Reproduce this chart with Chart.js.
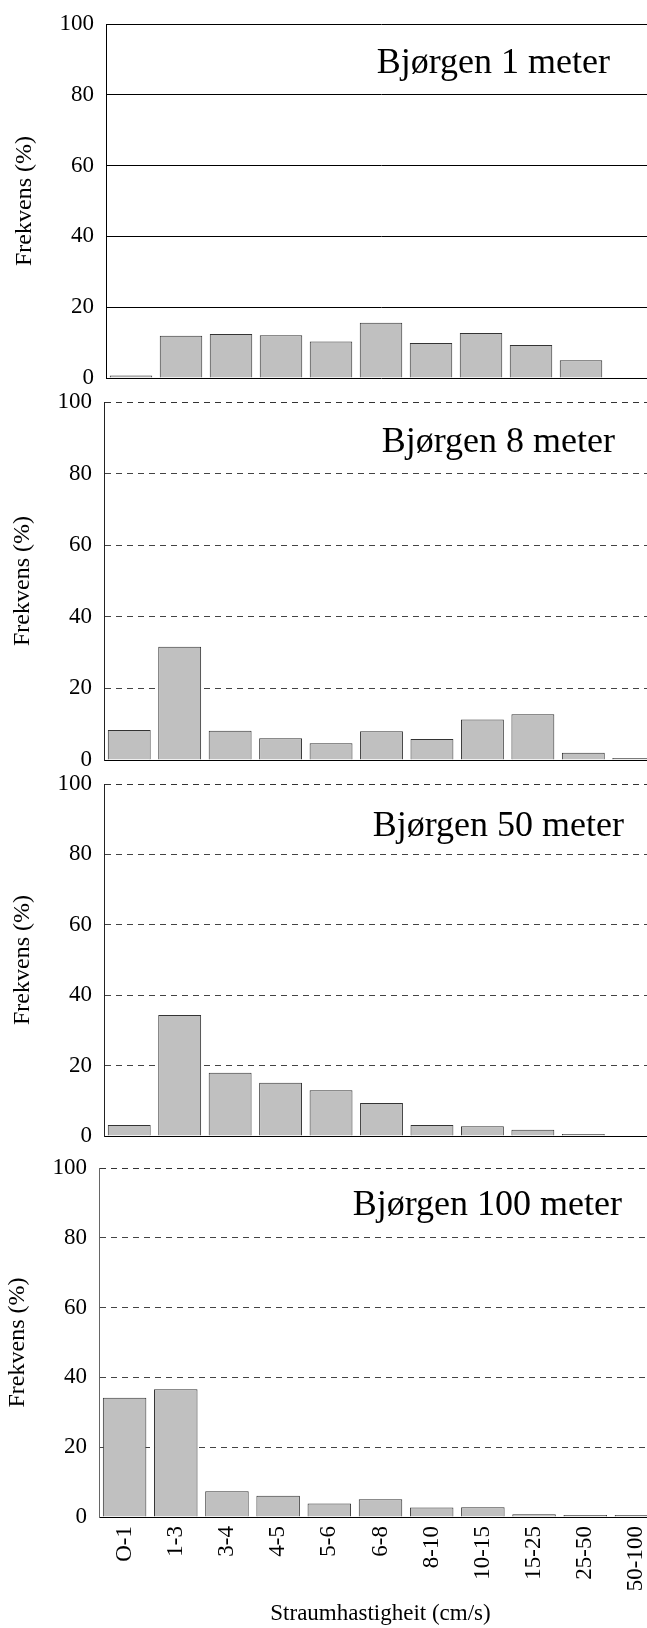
<!DOCTYPE html>
<html>
<head>
<meta charset="utf-8">
<script src="https://cdn.jsdelivr.net/npm/chart.js@4"></script>
<style>
  html, body { margin: 0; padding: 0; background: #fff; overflow: hidden; }
  #wrap { position: relative; width: 647px; height: 1628px; overflow: hidden; }
  canvas { position: absolute; left: 0; }
</style>
</head>
<body>
<div id="wrap">
  <canvas id="c1"></canvas>
  <canvas id="c2"></canvas>
  <canvas id="c3"></canvas>
  <canvas id="c4"></canvas>
</div>
<script>
// Speed classes (cm/s)
const categories = ['O-1', '1-3', '3-4', '4-5', '5-6', '6-8', '8-10', '10-15', '15-25', '25-50', '50-100'];
const yTicks = [0, 20, 40, 60, 80, 100];

// Frequency (%) per depth
const depth1 = [0.7, 11.9, 12.4, 12.1, 10.3, 15.6, 9.9, 12.7, 9.3, 5.0, 0];
const depth8 = [8.4, 31.6, 8.2, 6.1, 4.7, 8.0, 5.9, 11.3, 12.8, 2.0, 0.2];
const depth50 = [3.1, 34.4, 18.0, 15.1, 13.0, 9.4, 3.1, 2.8, 1.8, 0.3, 0];
const depth100 = [34.2, 36.6, 7.4, 6.1, 3.9, 5.1, 2.7, 2.8, 0.8, 0.2, 0.2];

const titles = ['Bjørgen 1 meter', 'Bjørgen 8 meter', 'Bjørgen 50 meter', 'Bjørgen 100 meter'];

Chart.defaults.font.family = "'Liberation Serif', 'Times New Roman', serif";
Chart.defaults.color = '#000';

const CANVAS_W = 690;
const PAGE_H = 1628;
const PAD = 30;

// Panel title drawn inside the plot area
const panelTitle = {
  id: 'panelTitle',
  afterDraw(chart, args, opts) {
    const ctx = chart.ctx;
    ctx.save();
    ctx.font = "36px 'Liberation Serif', 'Times New Roman', serif";
    ctx.fillStyle = '#000';
    ctx.textAlign = 'right';
    ctx.textBaseline = 'alphabetic';
    ctx.fillText(opts.text, opts.x, chart.chartArea.top + opts.dy);
    ctx.restore();
  }
};

function makePanel(id, values, title, p, isLast) {
  const canvas = document.getElementById(id);
  const canvasTop = p.plotTop - PAD;
  const canvasBottom = isLast ? PAGE_H : p.plotBottom + PAD;
  canvas.width = CANVAS_W;
  canvas.height = canvasBottom - canvasTop;
  canvas.style.top = canvasTop + 'px';

  const gridColor = (c) => {
    if (c.tick.value === 0) return 'rgba(0,0,0,0)';
    if (!p.dashed) return '#000';
    return c.tick.value === 100 ? '#333' : '#444';
  };

  new Chart(canvas, {
    type: 'bar',
    data: {
      labels: categories,
      datasets: [{
        data: values,
        backgroundColor: (c) => c.raw === 0 ? 'rgba(0,0,0,0)' : '#c0c0c0',
        borderColor: (c) => c.raw === 0 ? 'rgba(0,0,0,0)' : '#333',
        borderWidth: 1,
        minBarLength: 2,
        categoryPercentage: 0.85,
        barPercentage: 1
      }]
    },
    options: {
      responsive: false,
      animation: false,
      layout: { padding: { left: 0, top: PAD, right: CANVAS_W - p.plotRight, bottom: isLast ? 0 : PAD } },
      plugins: {
        legend: { display: false },
        tooltip: { enabled: false },
        panelTitle: { text: title, x: p.titleRight, dy: p.titleDy }
      },
      scales: {
        x: {
          grid: { display: false, drawTicks: false },
          border: { display: true, color: '#000', width: 1 },
          ticks: {
            display: isLast,
            minRotation: 90,
            maxRotation: 90,
            autoSkip: false,
            padding: 9,
            color: '#000',
            font: { size: 23 }
          },
          title: {
            display: isLast,
            text: 'Straumhastigheit (cm/s)',
            color: '#000',
            font: { size: 23 },
            padding: { top: 0, bottom: 0 }
          },
          afterFit: (s) => { s.height = isLast ? PAGE_H - p.plotBottom : 0; }
        },
        y: {
          min: 0,
          max: 100,
          afterBuildTicks: (s) => { s.ticks = yTicks.map(v => ({ value: v })); },
          grid: { color: gridColor, drawTicks: false, lineWidth: 1 },
          border: { display: true, color: p.axisColor, width: 1, dash: p.dashed ? [6, 5] : [] },
          ticks: { padding: 12, color: '#000', font: { size: 23 } },
          title: {
            display: true,
            text: 'Frekvens (%)',
            color: '#000',
            font: { size: 24 },
            padding: { top: p.yTitlePad, bottom: 0 }
          },
          afterFit: (s) => { s.width = p.axisX; }
        }
      }
    },
    plugins: [panelTitle]
  });
}

makePanel('c1', depth1, titles[0],
  { plotTop: 24, plotBottom: 378, axisX: 106, plotRight: 656, titleRight: 610, titleDy: 49, yTitlePad: 10, dashed: false, axisColor: '#000' }, false);
makePanel('c2', depth8, titles[1],
  { plotTop: 402, plotBottom: 760, axisX: 104, plotRight: 659, titleRight: 615, titleDy: 50, yTitlePad: 8, dashed: true, axisColor: '#222' }, false);
makePanel('c3', depth50, titles[2],
  { plotTop: 784, plotBottom: 1136, axisX: 104, plotRight: 659, titleRight: 624, titleDy: 52, yTitlePad: 8, dashed: true, axisColor: '#222' }, false);
makePanel('c4', depth100, titles[3],
  { plotTop: 1168, plotBottom: 1517, axisX: 99, plotRight: 662, titleRight: 622, titleDy: 47, yTitlePad: 3, dashed: true, axisColor: '#666' }, true);
</script>
</body>
</html>
